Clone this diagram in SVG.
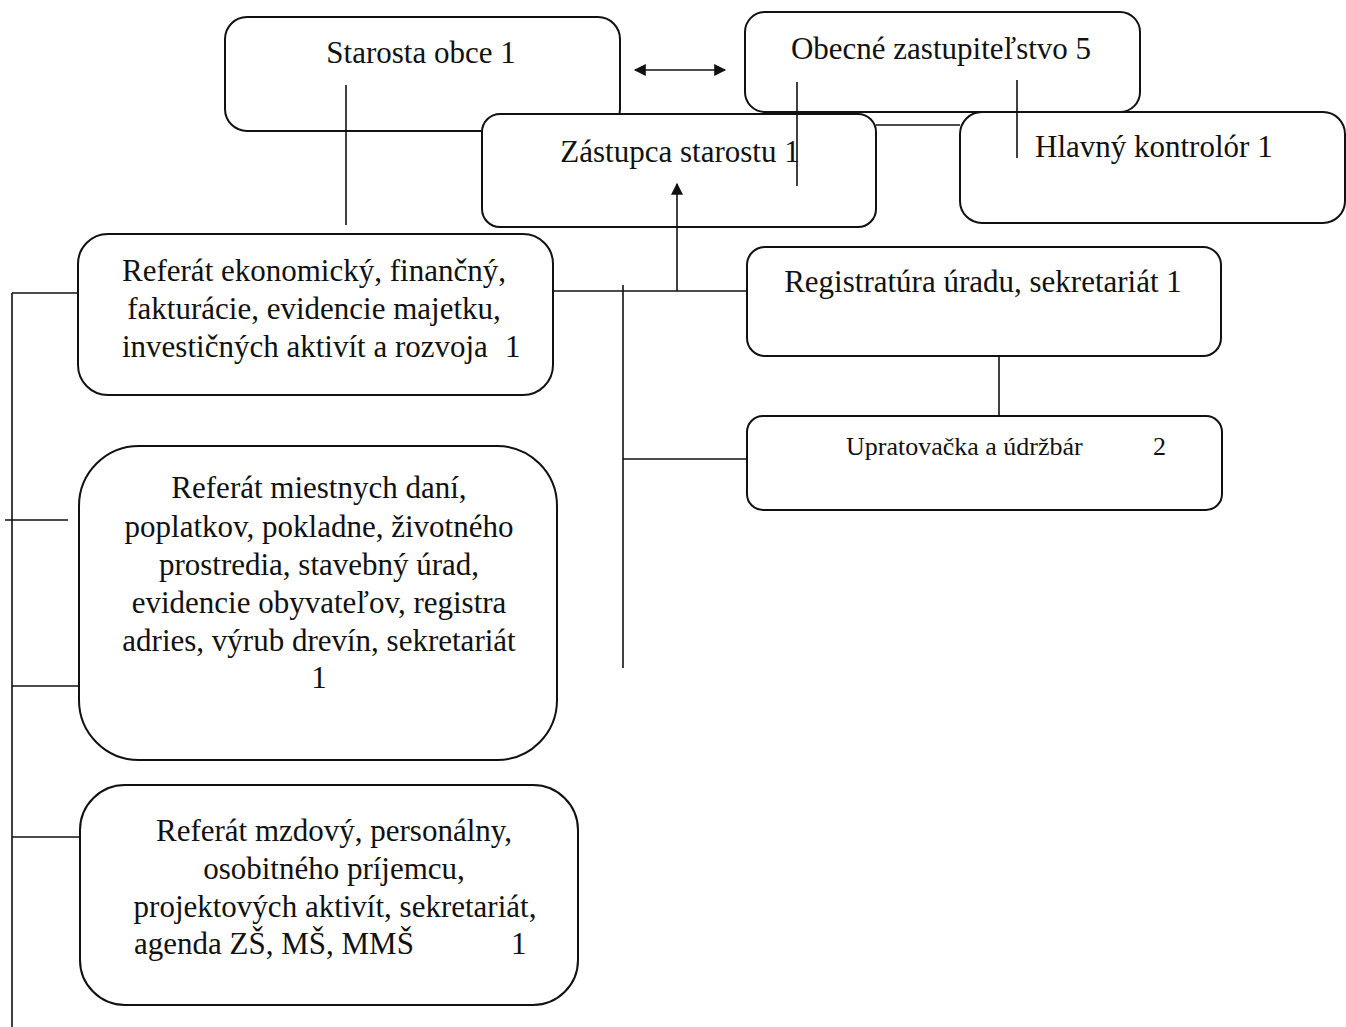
<svg xmlns="http://www.w3.org/2000/svg" width="1346" height="1027" viewBox="0 0 1346 1027">
<defs>
<style>
.box{fill:#fff;stroke:#111;stroke-width:2}
.t{font-family:"Liberation Serif","Times New Roman",serif;font-size:31px;fill:#111}
.ts{font-family:"Liberation Serif","Times New Roman",serif;font-size:26px;fill:#111}
.c{text-anchor:middle}
.ln{stroke:#111;stroke-width:1.6;fill:none}
</style>
<marker id="ah2" viewBox="0 0 10 10" refX="9" refY="5" markerWidth="16" markerHeight="12" markerUnits="userSpaceOnUse" orient="auto-start-reverse">
<path d="M0,0 L10,5 L0,10 z" fill="#111"/>
</marker>
</defs>
<rect width="1346" height="1027" fill="#fff"/>
<g id="starosta">
<rect class="box" x="225" y="17" width="395" height="114" rx="22"/>
<text class="t c" x="421" y="63">Starosta obce 1</text>
</g>
<g id="zastupitelstvo">
<rect class="box" x="745" y="12" width="395" height="100" rx="20"/>
<text class="t c" x="941" y="59">Obecné zastupiteľstvo 5</text>
</g>
<g id="zastupca">
<rect class="box" x="482" y="114" width="394" height="113" rx="18"/>
<text class="t c" x="680" y="162">Zástupca starostu 1</text>
</g>
<g id="kontrolor">
<rect class="box" x="960" y="112" width="385" height="111" rx="22"/>
<text class="t" x="1035" y="157">Hlavný kontrolór 1</text>
</g>
<g id="ekonomicky">
<rect class="box" x="78" y="234" width="475" height="161" rx="30"/>
<text class="t c" x="314" y="281">Referát ekonomický, finančný,</text>
<text class="t c" x="314" y="319">fakturácie, evidencie majetku,</text>
<text class="t" x="122" y="357">investičných aktivít a rozvoja</text>
<text class="t" x="505" y="357">1</text>
</g>
<g id="registratura">
<rect class="box" x="747" y="247" width="474" height="109" rx="18"/>
<text class="t c" x="983" y="292">Registratúra úradu, sekretariát 1</text>
</g>
<g id="upratovacka">
<rect class="box" x="747" y="416" width="475" height="94" rx="16"/>
<text class="ts" x="846" y="455">Upratovačka a údržbár</text>
<text class="ts" x="1153" y="455">2</text>
</g>
<g id="miestne">
<rect class="box" x="79" y="446" width="478" height="314" rx="60"/>
<text class="t c" x="319" y="498">Referát miestnych daní,</text>
<text class="t c" x="319" y="537">poplatkov, pokladne, životného</text>
<text class="t c" x="319" y="575">prostredia, stavebný úrad,</text>
<text class="t c" x="319" y="613">evidencie obyvateľov, registra</text>
<text class="t c" x="319" y="651">adries, výrub drevín, sekretariát</text>
<text class="t c" x="319" y="688">1</text>
</g>
<g id="mzdovy">
<rect class="box" x="80" y="785" width="498" height="220" rx="45"/>
<text class="t c" x="334" y="841">Referát mzdový, personálny,</text>
<text class="t c" x="334" y="879">osobitného príjemcu,</text>
<text class="t c" x="335" y="917">projektových aktivít, sekretariát,</text>
<text class="t" x="134" y="954">agenda ZŠ, MŠ, MMŠ</text>
<text class="t" x="511" y="954">1</text>
</g>
<g id="connectors">
<line class="ln" x1="635" y1="70" x2="725" y2="70" marker-start="url(#ah2)" marker-end="url(#ah2)"/>
<line class="ln" x1="346" y1="85" x2="346" y2="225"/>
<line class="ln" x1="797" y1="82" x2="797" y2="186"/>
<line class="ln" x1="1017" y1="80" x2="1017" y2="158"/>
<line class="ln" x1="876" y1="125" x2="960" y2="125"/>
<line class="ln" x1="553" y1="291" x2="747" y2="291"/>
<line class="ln" x1="677" y1="291" x2="677" y2="184" marker-end="url(#ah2)"/>
<line class="ln" x1="623" y1="285" x2="623" y2="668"/>
<line class="ln" x1="623" y1="459" x2="747" y2="459"/>
<line class="ln" x1="999" y1="356" x2="999" y2="416"/>
<line class="ln" x1="12" y1="293" x2="12" y2="1027"/>
<line class="ln" x1="12" y1="293" x2="78" y2="293"/>
<line class="ln" x1="5" y1="520" x2="68" y2="520"/>
<line class="ln" x1="12" y1="686" x2="80" y2="686"/>
<line class="ln" x1="12" y1="837" x2="80" y2="837"/>
</g>
</svg>
